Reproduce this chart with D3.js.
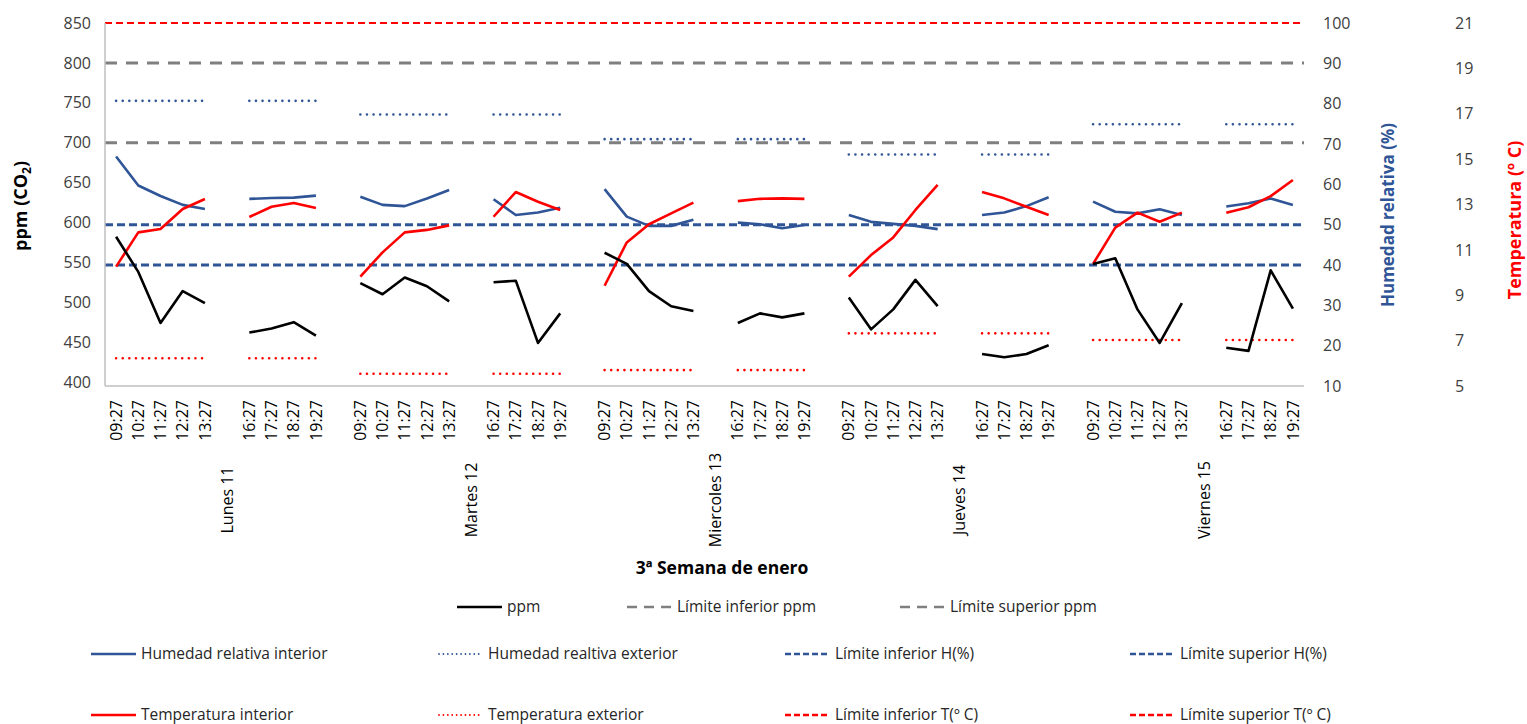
<!DOCTYPE html>
<html>
<head>
<meta charset="utf-8">
<script src="https://cdn.jsdelivr.net/npm/d3@7"></script>
<style>
  body { margin: 0; background: #fff; }
  text { font-family: "Open Sans", "DejaVu Sans", sans-serif; }
</style>
</head>
<body>
<svg id="chart" width="1527" height="724"></svg>
<script>
// ---- Data -------------------------------------------------------------
const horas = ["09:27","10:27","11:27","12:27","13:27","","16:27","17:27","18:27","19:27",""];
const dias = ["Lunes 11","Martes 12","Miercoles 13","Jueves 14","Viernes 15"];
const nCat = 54;                                    // last day has no trailing blank slot
const categorias = dias.flatMap(() => horas).slice(0, nCat);

const _ = null;
// CO2 (ppm)
const ppm = [
  582, 538, 474, 514, 499, _, 462, 467, 475, 458, _,
  524, 510, 531, 520, 501, _, 525, 527, 449, 486, _,
  562, 548, 514, 495, 489, _, 474, 486, 481, 486, _,
  506, 466, 491, 528, 495, _, 435, 431, 435, 446, _,
  548, 555, 491, 449, 499, _, 443, 439, 540, 492
];
// Humedad relativa interior (%)
const humInt = [
  66.9, 59.7, 57.1, 54.9, 53.9, _, 56.4, 56.6, 56.7, 57.2, _,
  56.9, 54.9, 54.6, 56.5, 58.6, _, 56.3, 52.4, 53.0, 54.2, _,
  58.8, 52.0, 49.7, 49.7, 51.2, _, 50.5, 50.1, 49.1, 49.9, _,
  52.4, 50.7, 50.2, 49.7, 48.9, _, 52.4, 53.0, 54.6, 56.8, _,
  55.7, 53.2, 52.8, 53.8, 52.4, _, 54.5, 55.3, 56.5, 54.9
];
// Humedad relativa exterior (%)
const humExt = [
  80.7, 80.7, 80.7, 80.7, 80.7, _, 80.7, 80.7, 80.7, 80.7, _,
  77.3, 77.3, 77.3, 77.3, 77.3, _, 77.3, 77.3, 77.3, 77.3, _,
  71.2, 71.2, 71.2, 71.2, 71.2, _, 71.2, 71.2, 71.2, 71.2, _,
  67.4, 67.4, 67.4, 67.4, 67.4, _, 67.4, 67.4, 67.4, 67.4, _,
  74.9, 74.9, 74.9, 74.9, 74.9, _, 74.9, 74.9, 74.9, 74.9
];
// Temperatura interior (º C)
const tempInt = [
  10.26, 11.77, 11.92, 12.80, 13.24, _, 12.45, 12.90, 13.07, 12.85, _,
   9.82, 10.89, 11.77, 11.88, 12.08, _, 12.46, 13.55, 13.12, 12.76, _,
   9.42, 11.33, 12.13, 12.61, 13.08, _, 13.15, 13.25, 13.27, 13.25, _,
   9.82, 10.77, 11.55, 12.76, 13.86, _, 13.55, 13.27, 12.90, 12.54, _,
  10.38, 11.98, 12.64, 12.24, 12.64, _, 12.64, 12.88, 13.37, 14.08
];
// Temperatura exterior (º C)
const tempExt = [
  6.22, 6.22, 6.22, 6.22, 6.22, _, 6.22, 6.22, 6.22, 6.22, _,
  5.54, 5.54, 5.54, 5.54, 5.54, _, 5.54, 5.54, 5.54, 5.54, _,
  5.70, 5.70, 5.70, 5.70, 5.70, _, 5.70, 5.70, 5.70, 5.70, _,
  7.32, 7.32, 7.32, 7.32, 7.32, _, 7.32, 7.32, 7.32, 7.32, _,
  7.03, 7.03, 7.03, 7.03, 7.03, _, 7.03, 7.03, 7.03, 7.03
];
// Reference limits
const limitesPpm = [700, 800];
const limitesH = [40, 50];
const limitesT = [21, 23];

// Axis ticks
const ticksPpm = [400, 450, 500, 550, 600, 650, 700, 750, 800, 850];
const ticksHum = [10, 20, 30, 40, 50, 60, 70, 80, 90, 100];
const ticksTemp = [5, 7, 9, 11, 13, 15, 17, 19, 21];

// ---- Layout -----------------------------------------------------------
const svg = d3.select("#chart");
const plot = { left: 105, right: 1304, top: 23, bottom: 386 };
const BLUE = "#2F5597", RED = "#FF0000", GREY = "#7F7F7F", TXT = "#404040";

const x = d3.scaleBand().domain(d3.range(nCat)).range([plot.left, plot.right]);
const xc = i => x(i) + x.bandwidth() / 2;
const yPpm = d3.scaleLinear().domain([400, 850]).range([382, plot.top]);
const yHum = d3.scaleLinear().domain([10, 100]).range([plot.bottom, plot.top]);
const yTemp = d3.scaleLinear().domain([5, 21]).range([plot.bottom, plot.top]);

svg.append("defs").append("clipPath").attr("id", "plotClip")
  .append("rect").attr("x", plot.left).attr("y", plot.top - 3)
  .attr("width", plot.right - plot.left).attr("height", plot.bottom - plot.top + 3);

// Line styles
const styles = {
  ppm:      { color: "#000", width: 2.6, dash: null },
  limPpm:   { color: GREY, width: 3, dash: "12 9" },
  humInt:   { color: BLUE, width: 2.6, dash: null },
  humExt:   { color: BLUE, width: 2.6, dash: "0.01 6.6", cap: "round" },
  limH:     { color: BLUE, width: 3, dash: "8 4" },
  tempInt:  { color: RED, width: 2.6, dash: null },
  tempExt:  { color: RED, width: 2.6, dash: "0.01 6.6", cap: "round" },
  limT:     { color: RED, width: 2, dash: "7 4" }
};

const g = svg.append("g").attr("clip-path", "url(#plotClip)");

function drawLimit(v, scale, st) {
  g.append("line")
    .attr("x1", plot.left).attr("x2", plot.right)
    .attr("y1", scale(v)).attr("y2", scale(v))
    .attr("stroke", st.color).attr("stroke-width", st.width)
    .attr("stroke-dasharray", st.dash);
}
function drawSeries(values, scale, st) {
  const line = d3.line()
    .defined(d => d != null)
    .x((d, i) => xc(i))
    .y(d => scale(d));
  g.append("path")
    .attr("d", line(values))
    .attr("fill", "none")
    .attr("stroke", st.color).attr("stroke-width", st.width)
    .attr("stroke-dasharray", st.dash)
    .attr("stroke-linecap", st.cap || "butt")
    .attr("stroke-linejoin", "round");
}

limitesT.forEach(v => drawLimit(v, yTemp, styles.limT));
limitesPpm.forEach(v => drawLimit(v, yPpm, styles.limPpm));
drawSeries(humExt, yHum, styles.humExt);
drawSeries(tempExt, yTemp, styles.tempExt);
limitesH.forEach(v => drawLimit(v, yHum, styles.limH));
drawSeries(humInt, yHum, styles.humInt);
drawSeries(tempInt, yTemp, styles.tempInt);
drawSeries(ppm, yPpm, styles.ppm);

// Plot frame (left + bottom)
svg.append("line").attr("x1", plot.left).attr("x2", plot.left)
  .attr("y1", plot.top).attr("y2", plot.bottom)
  .attr("stroke", "#BFBFBF").attr("stroke-width", 1.5);
svg.append("line").attr("x1", plot.left).attr("x2", plot.right)
  .attr("y1", plot.bottom).attr("y2", plot.bottom)
  .attr("stroke", "#BFBFBF").attr("stroke-width", 1.5);

// ---- Axes -------------------------------------------------------------
function styleAxis(sel) {
  sel.select(".domain").remove();
  sel.selectAll("text").attr("fill", TXT).style("font-size", "16px")
     .style("font-family", '"Open Sans", sans-serif');
}
svg.append("g").attr("transform", `translate(${plot.left},0)`)
  .call(d3.axisLeft(yPpm).tickValues(ticksPpm).tickSize(0).tickPadding(14))
  .call(styleAxis);
svg.append("g").attr("transform", `translate(${plot.right},0)`)
  .call(d3.axisRight(yHum).tickValues(ticksHum).tickSize(0).tickPadding(19))
  .call(styleAxis);
svg.append("g").attr("transform", `translate(1440,0)`)
  .call(d3.axisRight(yTemp).tickValues(ticksTemp).tickSize(0).tickPadding(15))
  .call(styleAxis);

// Category axis: hours
const xAxis = svg.append("g").attr("transform", `translate(0,${plot.bottom})`)
  .call(d3.axisBottom(x).tickSize(0).tickFormat(i => categorias[i]));
xAxis.select(".domain").remove();
xAxis.selectAll(".tick text")
  .attr("transform", "translate(0,14) rotate(-90)")
  .attr("x", 0).attr("y", 0).attr("dy", "0.35em")
  .attr("text-anchor", "end")
  .attr("fill", "#000").style("font-size", "16px");

// Category axis: days
svg.append("g").selectAll("text").data(dias).join("text")
  .attr("transform", (d, k) =>
    `translate(${plot.left + (k * horas.length + 5.5) * x.bandwidth()},500) rotate(-90)`)
  .attr("dy", "0.35em")
  .attr("text-anchor", "middle")
  .attr("fill", "#000").style("font-size", "16px")
  .text(d => d);

// Axis titles
const tPpm = svg.append("text")
  .attr("transform", "translate(27,206) rotate(-90)")
  .attr("text-anchor", "middle").attr("fill", "#000")
  .style("font-size", "18px").style("font-weight", "bold");
tPpm.append("tspan").text("ppm (CO");
tPpm.append("tspan").attr("dy", "4").style("font-size", "12px").text("2");
tPpm.append("tspan").attr("dy", "-4").text(")");

svg.append("text")
  .attr("transform", "translate(1394,215) rotate(-90)")
  .attr("text-anchor", "middle").attr("fill", BLUE)
  .style("font-size", "17px").style("font-weight", "bold")
  .text("Humedad relativa (%)");

svg.append("text")
  .attr("transform", "translate(1521,220) rotate(-90)")
  .attr("text-anchor", "middle").attr("fill", RED)
  .style("font-size", "18px").style("font-weight", "bold")
  .text("Temperatura (º C)");

svg.append("text")
  .attr("x", 722).attr("y", 574)
  .attr("text-anchor", "middle").attr("fill", "#000")
  .style("font-size", "17.5px").style("font-weight", "bold")
  .text("3ª Semana de enero");

// ---- Legend -----------------------------------------------------------
const legendRows = [
  { y: 607, xs: [457, 627, 900], items: [
      ["ppm", "ppm"], ["limPpm", "Límite inferior ppm"], ["limPpm", "Límite superior ppm"] ] },
  { y: 654, xs: [91, 437, 785, 1130], items: [
      ["humInt", "Humedad relativa interior"], ["humExt", "Humedad realtiva exterior"],
      ["limH", "Límite inferior H(%)"], ["limH", "Límite superior H(%)"] ] },
  { y: 715, xs: [91, 437, 785, 1130], items: [
      ["tempInt", "Temperatura interior"], ["tempExt", "Temperatura exterior"],
      ["limT", "Límite inferior T(º C)"], ["limT", "Límite superior T(º C)"] ] }
];
const legend = svg.append("g");
legendRows.forEach(row => {
  row.items.forEach(([key, label], j) => {
    const st = styles[key];
    const lx = row.xs[j];
    const dotted = st.cap === "round";
    legend.append("line")
      .attr("x1", lx + (dotted ? 2 : 0)).attr("x2", lx + 45)
      .attr("y1", row.y).attr("y2", row.y)
      .attr("stroke", st.color)
      .attr("stroke-width", dotted ? 1.8 : 2.6)
      .attr("stroke-dasharray", dotted ? "0.01 4.4" : (key === "limPpm" ? "10 7" : (st.dash ? "6 3" : null)))
      .attr("stroke-linecap", st.cap || "butt");
    legend.append("text")
      .attr("x", lx + (dotted ? 51 : 50)).attr("y", row.y)
      .attr("dy", "0.35em").attr("fill", "#262626")
      .style("font-size", "15.5px")
      .text(label);
  });
});
</script>
</body>
</html>
